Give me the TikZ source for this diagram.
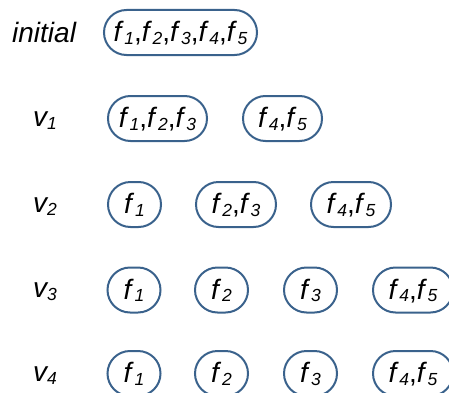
\documentclass[tikz,border=0pt]{standalone}
\usepackage{fontspec}
\setmainfont{Liberation Sans}
\newcommand\subtxt[1]{\raisebox{-2.5pt}{\fontsize{17.5}{17.5}\selectfont\itshape #1}}
\newcommand\fsub[1]{{\itshape f}\kern3pt\subtxt{#1}}
\definecolor{boxblue}{RGB}{58,98,140}
\begin{document}
\begin{tikzpicture}[x=1pt,y=1pt,
  setbox/.style={draw=boxblue,line width=2pt,rounded corners=22.5pt,minimum height=45pt,inner sep=0pt,text height=20pt,text depth=2pt,font=\fontsize{28}{28}\selectfont},
  rowlabel/.style={anchor=base west,inner sep=0pt,font=\fontsize{28}{28}\selectfont\itshape}]
\useasboundingbox (0,0) rectangle (449,392);
% row labels
\node[rowlabel] (linit) at (12,350) {initial};
\node[rowlabel] (l1) at (33,265.5) {v\subtxt{1}};
\node[rowlabel] (l2) at (33,179.5) {v\subtxt{2}};
\node[rowlabel] (l3) at (33,94.5) {v\subtxt{3}};
\node[rowlabel] (l4) at (33,10.5) {v\subtxt{4}};
% initial
\node[setbox,minimum width=153pt] (a1) at (180.5,359.5) {\fsub{1},\fsub{2},\fsub{3},\fsub{4},\fsub{5}};
% v1
\node[setbox,minimum width=99pt] (b1) at (157.5,273.5) {\fsub{1},\fsub{2},\fsub{3}};
\node[setbox,minimum width=79pt] (b2) at (282.5,273.5) {\fsub{4},\fsub{5}};
% v2
\node[setbox,minimum width=53pt] (c1) at (134.5,187.5) {\fsub{1}};
\node[setbox,minimum width=80pt] (c2) at (236,187.5) {\fsub{2},\fsub{3}};
\node[setbox,minimum width=80pt] (c3) at (351,187.5) {\fsub{4},\fsub{5}};
% v3
\node[setbox,minimum width=53pt] (d1) at (134,102) {\fsub{1}};
\node[setbox,minimum width=53pt] (d2) at (221.5,102) {\fsub{2}};
\node[setbox,minimum width=53pt] (d3) at (310.5,102) {\fsub{3}};
\node[setbox,minimum width=80pt] (d4) at (413,102) {\fsub{4},\fsub{5}};
% v4
\node[setbox,minimum width=53pt] (e1) at (134,18.5) {\fsub{1}};
\node[setbox,minimum width=53pt] (e2) at (221.5,18.5) {\fsub{2}};
\node[setbox,minimum width=53pt] (e3) at (310.5,18.5) {\fsub{3}};
\node[setbox,minimum width=80pt] (e4) at (413,18.5) {\fsub{4},\fsub{5}};
\end{tikzpicture}
\end{document}
